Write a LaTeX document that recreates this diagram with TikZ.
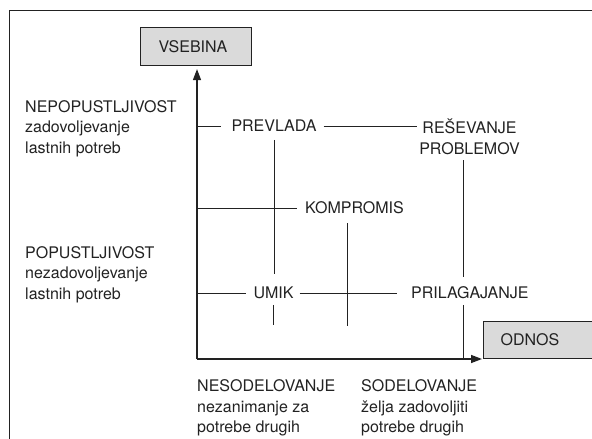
\documentclass[tikz,border=0pt]{standalone}
\usepackage{fontspec}
\setmainfont{TeX Gyre Heros}
\usetikzlibrary{arrows.meta}
\newcommand{\labfont}{\fontsize{16}{20.5}\selectfont}
\newcommand{\stackL}[1]{\vtop{\labfont\baselineskip=20.5pt\halign{\labfont##\hfil\cr#1\crcr}}}
\newcommand{\stackC}[1]{\vtop{\labfont\baselineskip=21.5pt\halign{\hfil\labfont##\hfil\cr#1\crcr}}}
\definecolor{boxgray}{HTML}{DADADA}
\definecolor{ink}{HTML}{222222}
\tikzset{
  lbl/.style={inner sep=0pt, text height=11.5pt, text depth=0pt, font=\labfont, text=ink},
  multi/.style={inner sep=0pt, font=\labfont, text=ink},
  axisbox/.style={draw=ink, line width=1.1pt, fill=boxgray, inner ysep=0pt, minimum height=38pt, align=left, font=\labfont, text=ink},
  axisline/.style={draw=ink, line width=1.4pt, -{Triangle[length=11pt,width=8pt]}},
  link/.style={draw=ink, line width=1pt},
  frameline/.style={draw=ink, line width=1pt}
}
\begin{document}
\begin{tikzpicture}[x=1pt,y=-1pt]
\useasboundingbox (0,0) rectangle (592,439);
\draw[frameline] (9,440) -- (9,10) -- (593,10);

% axis boxes
\node[axisbox, minimum width=111pt, text width=75pt, inner xsep=18pt, anchor=north west] (vseb) at (140,27) {VSEBINA};
\node[axisbox, minimum width=111pt, text width=77pt, inner xsep=17pt, minimum height=37pt, anchor=south west] (odnos) at (483,359) {ODNOS};

\coordinate (O) at (197,359);
\coordinate (rx) at (463,0);
\coordinate (kx1) at (347,223);
\coordinate (kx2) at (347,326);

% axes
\draw[axisline, shorten >=3pt] (O) -- (O |- vseb.south);
\draw[axisline, shorten >=1pt] (O) -- (O -| odnos.west);

% side labels
\node[multi, anchor=base west] (nepop) at (25,112.3) {\stackL{NEPOPUSTLJIVOST\cr zadovoljevanje\cr lastnih potreb}};
\node[multi, anchor=base west] (pop) at (25,258.3) {\stackL{POPUSTLJIVOST\cr nezadovoljevanje\cr lastnih potreb}};
\node[multi, anchor=base west] (nesod) at (197,391.7) {\stackL{NESODELOVANJE\cr nezanimanje za\cr potrebe drugih}};
\node[multi, anchor=base west] (sod) at (361,391.7) {\stackL{SODELOVANJE\cr želja zadovoljiti\cr potrebe drugih}};

% styles of conflict
\node[lbl] (prev) at (274,126) {PREVLADA};
\node[multi, anchor=base] (res) at (469.5,133.3) {\stackC{REŠEVANJE\cr PROBLEMOV}};
\node[lbl, anchor=west] (komp) at (305,208) {KOMPROMIS};
\node[lbl] (umik) at (273.5,293) {UMIK};
\node[lbl, anchor=west] (pril) at (411,293) {PRILAGAJANJE};
\coordinate (umikend) at (273.5,325);

% horizontal links
\draw[link, shorten >=10pt] (O |- prev) -- (prev.west);
\draw[link, shorten <=7pt, shorten >=2pt] (prev.east) -- (prev.east -| res.west);
\draw[link, shorten >=8pt] (O |- komp) -- (komp.west);
\draw[link, shorten >=7pt] (O |- umik) -- (umik.west);
\draw[link, shorten <=6pt, shorten >=14pt] (umik.east) -- (pril.west);

% vertical links
\draw[link, shorten <=8pt, shorten >=13pt] (prev.south) -- (prev.south |- umik.north);
\draw[link, shorten <=6pt] (umik.south) -- (umikend);
\draw[link] (kx1) -- (kx2);
\draw[link, shorten <=5pt, shorten >=10pt] (res.south -| rx) -- (pril.north -| rx);
\draw[link, shorten <=6pt] (pril.south -| rx) -- (O -| rx);
\end{tikzpicture}
\end{document}
